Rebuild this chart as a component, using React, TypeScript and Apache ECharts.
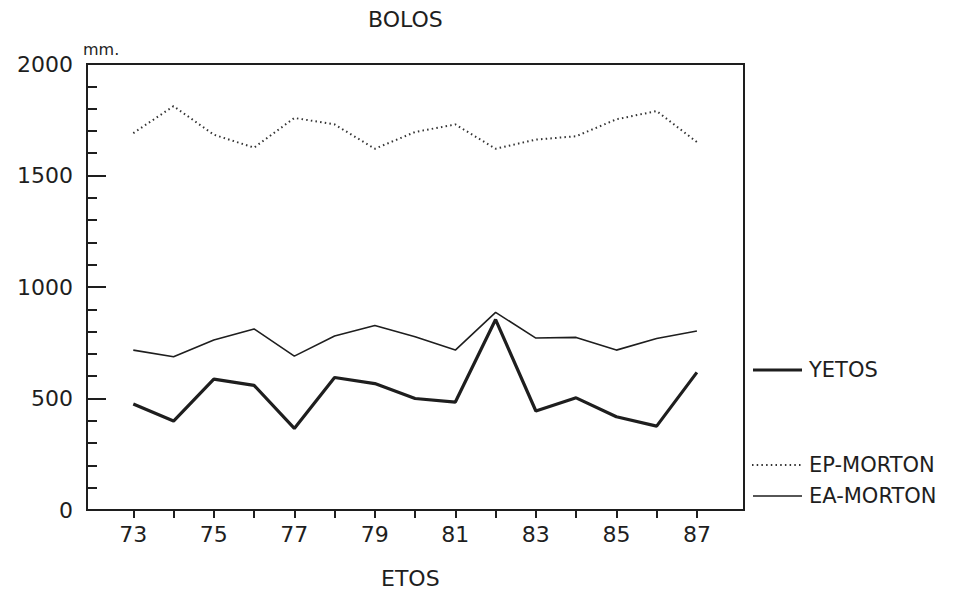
import React, { useEffect, useRef } from "react";
import * as echarts from "echarts";

const years = [73, 74, 75, 76, 77, 78, 79, 80, 81, 82, 83, 84, 85, 86, 87];
const yetos = [475, 399, 587, 559, 366, 594, 567, 500, 484, 854, 444, 503, 418, 376, 617];
const epMorton = [1690, 1811, 1683, 1625, 1758, 1729, 1620, 1695, 1729, 1620, 1661, 1676, 1752, 1789, 1650];
const eaMorton = [717, 687, 762, 812, 690, 780, 827, 777, 717, 886, 771, 774, 717, 769, 803];
const xLabelYears = [73, 75, 77, 79, 81, 83, 85, 87];
const yLabels = [0, 500, 1000, 1500, 2000];

const INK = "#1e1e1e";
const FONT = "DejaVu Sans";

export default function App() {
  const ref = useRef<HTMLDivElement>(null);
  useEffect(() => {
    if (!ref.current) return;
    const chart = echarts.init(ref.current, undefined, { renderer: "svg" });
    const pair = (arr: number[]) => years.map((y, i) => [y, arr[i]]);
    chart.setOption({
      animation: false,
      backgroundColor: "#ffffff",
      textStyle: { fontFamily: FONT, color: INK },
      grid: {
        left: 87,
        top: 64,
        right: 215,
        bottom: 84,
        show: true,
        borderColor: INK,
        borderWidth: 2,
        backgroundColor: "transparent",
      },
      xAxis: {
        type: "value",
        min: 71.85,
        max: 88.17,
        axisLine: { show: true, lineStyle: { color: INK, width: 2 } },
        axisTick: {
          show: true,
          inside: false,
          length: 8,
          lineStyle: { color: INK, width: 2 },
          customValues: years,
        },
        axisLabel: {
          show: true,
          customValues: xLabelYears,
          fontSize: 22,
          fontFamily: FONT,
          color: INK,
          margin: 13,
          formatter: (v: number) => String(v),
        },
        splitLine: { show: false },
      },
      yAxis: [
        {
          type: "value",
          min: 0,
          max: 2000,
          interval: 100,
          axisLine: { show: true, lineStyle: { color: INK, width: 2 } },
          axisTick: {
            show: true,
            inside: true,
            length: 10,
            lineStyle: { color: INK, width: 2 },
          },
          axisLabel: {
            show: true,
            fontSize: 22,
            fontFamily: FONT,
            color: INK,
            margin: 14,
            customValues: yLabels,
            formatter: (v: number) => String(v),
          },
          splitLine: { show: false },
        },
        {
          type: "value",
          position: "left",
          min: 0,
          max: 2000,
          interval: 500,
          axisLine: { show: false },
          axisTick: {
            show: true,
            inside: true,
            length: 19,
            lineStyle: { color: INK, width: 2 },
          },
          axisLabel: { show: false },
          splitLine: { show: false },
        },
      ],
      series: [
        {
          name: "YETOS",
          type: "line",
          data: pair(yetos),
          symbol: "none",
          lineStyle: { color: INK, width: 3.2 },
        },
        {
          name: "EP-MORTON",
          type: "line",
          data: pair(epMorton),
          symbol: "none",
          lineStyle: { color: "#333", width: 2, type: [1.5, 3.2] },
        },
        {
          name: "EA-MORTON",
          type: "line",
          data: pair(eaMorton),
          symbol: "none",
          lineStyle: { color: INK, width: 1.6 },
        },
      ],
      graphic: [
        {
          type: "text",
          left: 368,
          top: 8,
          style: { text: "BOLOS", font: `22px '${FONT}'`, fill: INK },
        },
        {
          type: "text",
          left: 381,
          top: 567,
          style: { text: "ETOS", font: `22px '${FONT}'`, fill: INK },
        },
        {
          type: "text",
          left: 83,
          top: 41,
          style: { text: "mm.", font: `16px '${FONT}'`, fill: INK },
        },
        {
          type: "line",
          shape: { x1: 753, y1: 370, x2: 802, y2: 370 },
          style: { stroke: INK, lineWidth: 3 },
        },
        {
          type: "text",
          x: 809,
          y: 370,
          style: { text: "YETOS", font: `21px '${FONT}'`, fill: INK, textVerticalAlign: "middle" },
        },
        {
          type: "line",
          shape: { x1: 752, y1: 465, x2: 802, y2: 465 },
          style: { stroke: "#333", lineWidth: 2, lineDash: [1.5, 3.2] },
        },
        {
          type: "text",
          x: 809,
          y: 465,
          style: { text: "EP-MORTON", font: `21px '${FONT}'`, fill: INK, textVerticalAlign: "middle" },
        },
        {
          type: "line",
          shape: { x1: 753, y1: 496, x2: 802, y2: 496 },
          style: { stroke: INK, lineWidth: 1.6 },
        },
        {
          type: "text",
          x: 809,
          y: 496,
          style: { text: "EA-MORTON", font: `21px '${FONT}'`, fill: INK, textVerticalAlign: "middle" },
        },
      ],
    });
    return () => chart.dispose();
  }, []);
  return (
    <div
      ref={ref}
      style={{ position: "fixed", left: 0, top: 0, width: 959, height: 594, background: "#fff" }}
    />
  );
}
